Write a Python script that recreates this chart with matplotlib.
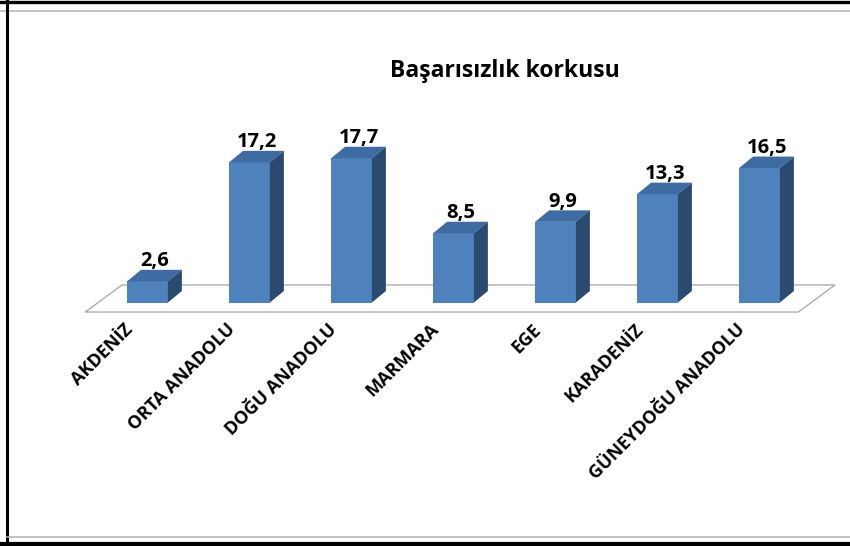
"""3D-style bar chart: Başarısızlık korkusu by region."""

import matplotlib
matplotlib.use('Agg')
import matplotlib.pyplot as plt
from matplotlib.patches import Polygon
from matplotlib.lines import Line2D

regions = ["AKDENİZ", "ORTA ANADOLU", "DOĞU ANADOLU", "MARMARA",
           "EGE", "KARADENİZ", "GÜNEYDOĞU ANADOLU"]
values = [2.6, 17.2, 17.7, 8.5, 9.9, 13.3, 16.5]
value_labels = ["2,6", "17,2", "17,7", "8,5", "9,9", "13,3", "16,5"]
title = "Başarısızlık korkusu"

FRONT = '#4F81BD'
TOP = '#3F6BA3'
SIDE = '#2B4A70'
FLOOR_LINE = '#A6A6A6'

plt.rcParams['font.family'] = ['Open Sans', 'DejaVu Sans']

fig = plt.figure(figsize=(8.5, 5.46), dpi=100)
ax = fig.add_axes([0, 0, 1, 1])
ax.axis('off')
ax.set_xlim(-1.446, 6.887)
ax.set_ylim(-29.88, 37.12)

width = 0.40
dx, dy = 0.137, 1.41   # depth of the 3D effect in data units

# floor of the 3D plot
n = len(values)
floor = Polygon([(-0.61, -1.17), (n - 1 + 0.38, -1.17),
                 (n - 1 + 0.74, 2.15), (-0.25, 2.15)],
                closed=True, facecolor='white', edgecolor=FLOOR_LINE,
                linewidth=0.9, zorder=1)
ax.add_patch(floor)

bars = ax.bar(range(n), values, width=width, color=FRONT, zorder=3)
for i, (bar, v) in enumerate(zip(bars, values)):
    x0 = bar.get_x()
    x1 = x0 + width
    top = Polygon([(x0, v), (x1, v), (x1 + dx, v + dy), (x0 + dx, v + dy)],
                  closed=True, facecolor=TOP, edgecolor='none', zorder=3)
    side = Polygon([(x1, 0), (x1 + dx, dy), (x1 + dx, v + dy), (x1, v)],
                   closed=True, facecolor=SIDE, edgecolor='none', zorder=3)
    ax.add_patch(top)
    ax.add_patch(side)
    ax.text(i + dx / 2, v + dy - 0.2, value_labels[i], ha='center',
            va='bottom', fontsize=14.5, fontweight='bold', zorder=4)
    ax.text(i - 0.23, -2.2, regions[i], ha='right', va='top', rotation=45,
            rotation_mode='anchor', fontsize=13, fontweight='bold', zorder=4)

fig.text(505 / 850, 1 - 71 / 546, title, ha='center', va='center',
         fontsize=16.5, fontweight='bold')

# frame lines around the picture
H = 546.0
fig.add_artist(Line2D([0, 1], [1 - 1.5 / H, 1 - 1.5 / H], color='black', lw=2.4))
fig.add_artist(Line2D([0, 1], [1 - 11 / H, 1 - 11 / H], color='#B4B4B4', lw=1.1))
fig.add_artist(Line2D([7 / 850, 7 / 850], [0, 1], color='black', lw=2.2))
fig.add_artist(Line2D([7 / 850, 1], [1 - 537 / H, 1 - 537 / H], color='#B4B4B4', lw=1.1))
fig.add_artist(Line2D([0, 1], [1 - 544 / H, 1 - 544 / H], color='black', lw=3.0))

fig.savefig('out.png', dpi=100)
